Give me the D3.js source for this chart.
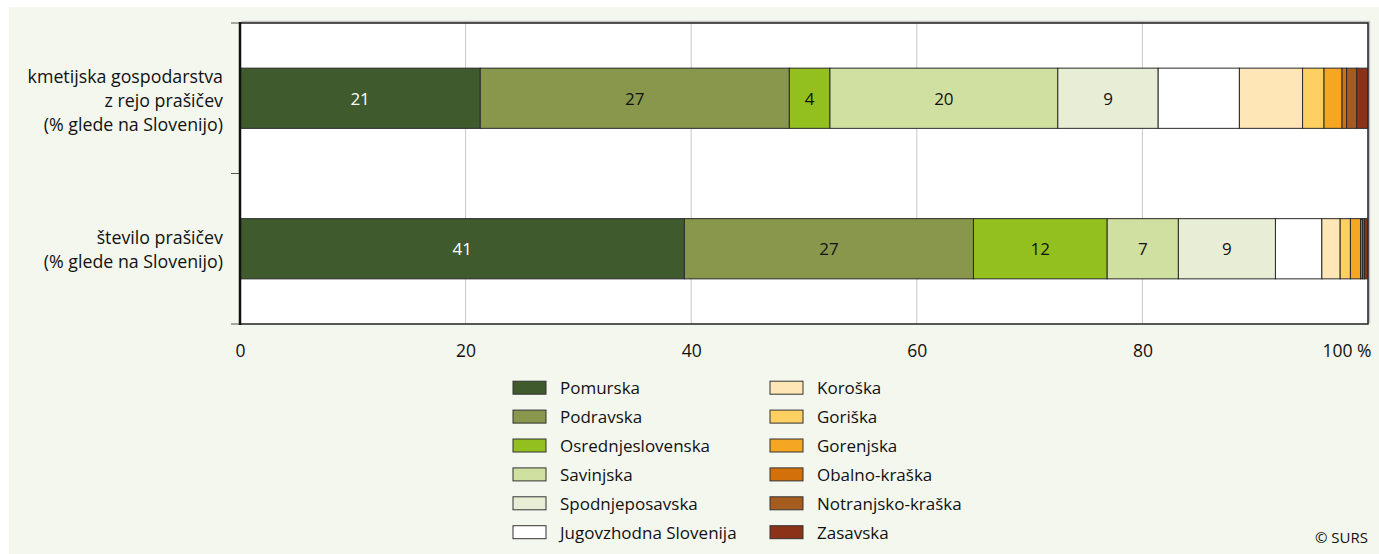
<!DOCTYPE html>
<html>
<head>
<meta charset="utf-8">
<script src="https://cdn.jsdelivr.net/npm/d3@7"></script>
<style>
  html, body { margin: 0; padding: 0; background: #ffffff; }
  svg { display: block; font-family: "Open Sans", "Noto Sans", sans-serif; }
</style>
</head>
<body>
<svg id="chart" width="1379" height="554"></svg>
<script>
// Regions (stack order, left to right)
const regions = [
  "Pomurska", "Podravska", "Osrednjeslovenska", "Savinjska", "Spodnjeposavska",
  "Jugovzhodna Slovenija", "Koroška", "Goriška", "Gorenjska", "Obalno-kraška",
  "Notranjsko-kraška", "Zasavska"
];
const regionColors = [
  "#3f5a2d", "#88974c", "#93c01f", "#d0e0a0", "#e8eed5",
  "#ffffff", "#fee6b6", "#fed061", "#f5a623", "#d4700a",
  "#a65c1e", "#8b3219"
];

// Bar categories (each label line is its own entry)
const categories = ["gospodarstva", "prasici"];
const categoryLines = [
  ["kmetijska gospodarstva", "z rejo prašičev", "(% glede na Slovenijo)"],
  ["število prašičev", "(% glede na Slovenijo)"]
];

// Shares by region, % of Slovenia
const farmsShare = [21.3, 27.4, 3.6, 20.2, 8.9, 7.2, 5.6, 1.9, 1.6, 0.4, 0.9, 1.0];
const pigsShare  = [41.2, 26.8, 12.4, 6.6, 9, 4.3, 1.7, 0.95, 0.94, 0.18, 0.18, 0.33];

// Regions whose segments carry a value label
const labelledRegions = regions.slice(0, 5);

const tickValues = [0, 20, 40, 60, 80, 100];
const tickLabels = ["0", "20", "40", "60", "80", "100 %"];
const sourceNote = "© SURS";

const table = categories.map((c, i) => {
  const vals = i === 0 ? farmsShare : pigsShare;
  const row = { category: c };
  regions.forEach((r, j) => { row[r] = vals[j]; });
  return row;
});

const svg = d3.select("#chart");
const W = 1379, H = 554;
const plot = { left: 240, right: 1368, top: 23, bottom: 324 };
const textColor = "#111111";

// panel background
svg.append("rect").attr("x", 9).attr("y", 7).attr("width", W - 9).attr("height", H - 7)
  .attr("fill", "#f4f7ee");

const x = d3.scaleLinear().domain([0, 100]).range([plot.left, plot.right]);
const yCat = d3.scaleBand().domain(categories).range([plot.top, plot.bottom]).padding(0);
const yBar = d3.scaleBand().domain(categories).range([plot.top, plot.bottom])
  .paddingInner(0.6).paddingOuter(0.3);

// shares are drawn as parts of a 100 % bar
const stack = d3.stack().keys(regions).offset(d3.stackOffsetExpand);
const series = stack(table);

// plot area
svg.append("rect")
  .attr("x", plot.left).attr("y", plot.top)
  .attr("width", plot.right - plot.left).attr("height", plot.bottom - plot.top)
  .attr("fill", "#ffffff");

// vertical gridlines
svg.append("g").selectAll("line")
  .data(tickValues.filter(v => v > 0 && v < 100))
  .join("line")
  .attr("x1", d => x(d)).attr("x2", d => x(d))
  .attr("y1", plot.top).attr("y2", plot.bottom)
  .attr("stroke", "#c8c8c8").attr("stroke-width", 1);

// stacked bars
const layers = svg.append("g").selectAll("g")
  .data(series)
  .join("g")
  .attr("fill", (d, i) => regionColors[i]);

layers.selectAll("rect")
  .data(d => d.map(p => Object.assign(p, { key: d.key })))
  .join("rect")
  .attr("x", d => x(d[0] * 100))
  .attr("width", d => x(d[1] * 100) - x(d[0] * 100))
  .attr("y", d => yBar(d.data.category))
  .attr("height", yBar.bandwidth())
  .attr("stroke", "#2a2a2a")
  .attr("stroke-width", 1);

// value labels
const fmt = d3.format(".0f");
const labelData = [];
series.forEach((s, i) => {
  if (!labelledRegions.includes(s.key)) return;
  s.forEach(p => labelData.push({
    mid: (p[0] + p[1]) / 2 * 100,
    value: p.data[s.key],
    category: p.data.category,
    color: i === 0 ? "#ffffff" : textColor
  }));
});
svg.append("g").selectAll("text")
  .data(labelData)
  .join("text")
  .attr("x", d => x(d.mid))
  .attr("y", d => yBar(d.category) + yBar.bandwidth() / 2)
  .attr("text-anchor", "middle")
  .attr("dominant-baseline", "central")
  .attr("font-size", 17)
  .attr("fill", d => d.color)
  .text(d => fmt(d.value));

// frame
svg.append("path")
  .attr("d", `M${plot.left},${plot.top}H${plot.right}V${plot.bottom}`)
  .attr("fill", "none").attr("stroke", "#c4c4c4").attr("stroke-width", 2.5)
  .attr("transform", "translate(1,-1)");
svg.append("path")
  .attr("d", `M${plot.left},${plot.top}H${plot.right}V${plot.bottom}H${plot.left}`)
  .attr("fill", "none").attr("stroke", "#222").attr("stroke-width", 1.5);

// left axis with ticks at category boundaries
const yBounds = [plot.top, ...categories.map(c => yCat(c) + yCat.bandwidth())];
svg.append("g").selectAll("line")
  .data(yBounds)
  .join("line")
  .attr("x1", plot.left - 9).attr("x2", plot.left)
  .attr("y1", d => d).attr("y2", d => d)
  .attr("stroke", "#555").attr("stroke-width", 1);
svg.append("line")
  .attr("x1", plot.left).attr("x2", plot.left)
  .attr("y1", plot.top - 1).attr("y2", plot.bottom + 1)
  .attr("stroke", "#111").attr("stroke-width", 2.5);

// category labels
categories.forEach((c, i) => {
  const lines = categoryLines[i];
  const cy = yCat(c) + yCat.bandwidth() / 2 + (i === 0 ? 1.5 : 0);
  const lh = 24;
  svg.append("g").selectAll("text")
    .data(lines)
    .join("text")
    .attr("x", 223)
    .attr("y", (d, k) => cy + (k - (lines.length - 1) / 2) * lh)
    .attr("text-anchor", "end")
    .attr("dominant-baseline", "central")
    .attr("font-size", 17.8)
    .attr("fill", textColor)
    .text(d => d);
});

// bottom axis
const xAxis = d3.axisBottom(x)
  .tickValues(tickValues)
  .tickSize(0)
  .tickPadding(0)
  .tickFormat((d, i) => tickLabels[i]);
const gx = svg.append("g").attr("transform", `translate(0,${plot.bottom})`).call(xAxis);
gx.select(".domain").remove();
gx.selectAll("text")
  .attr("y", 26)
  .attr("dy", null)
  .attr("dominant-baseline", "central")
  .attr("font-size", 17.5)
  .attr("font-family", "\"Open Sans\", \"Noto Sans\", sans-serif")
  .attr("fill", textColor);
gx.selectAll(".tick").filter(d => d === 100).select("text")
  .attr("text-anchor", "end").attr("x", 3);

// legend
const legendCols = [
  { x: 513, items: regions.slice(0, 6), colors: regionColors.slice(0, 6) },
  { x: 770, items: regions.slice(6), colors: regionColors.slice(6) }
];
legendCols.forEach(col => {
  const g = svg.append("g").selectAll("g")
    .data(col.items)
    .join("g")
    .attr("transform", (d, i) => `translate(${col.x},${387.7 + i * 28.9})`);
  g.append("rect")
    .attr("x", 0).attr("y", -6.5).attr("width", 33).attr("height", 13)
    .attr("fill", (d, i) => col.colors[i])
    .attr("stroke", "#333").attr("stroke-width", 1);
  g.append("text")
    .attr("x", 47).attr("y", 0)
    .attr("dominant-baseline", "central")
    .attr("font-size", 17)
    .attr("fill", textColor)
    .text(d => d);
});

// source
svg.append("text")
  .attr("x", 1368).attr("y", 537)
  .attr("text-anchor", "end")
  .attr("dominant-baseline", "central")
  .attr("font-size", 15)
  .attr("fill", textColor)
  .text(sourceNote);
</script>
</body>
</html>
